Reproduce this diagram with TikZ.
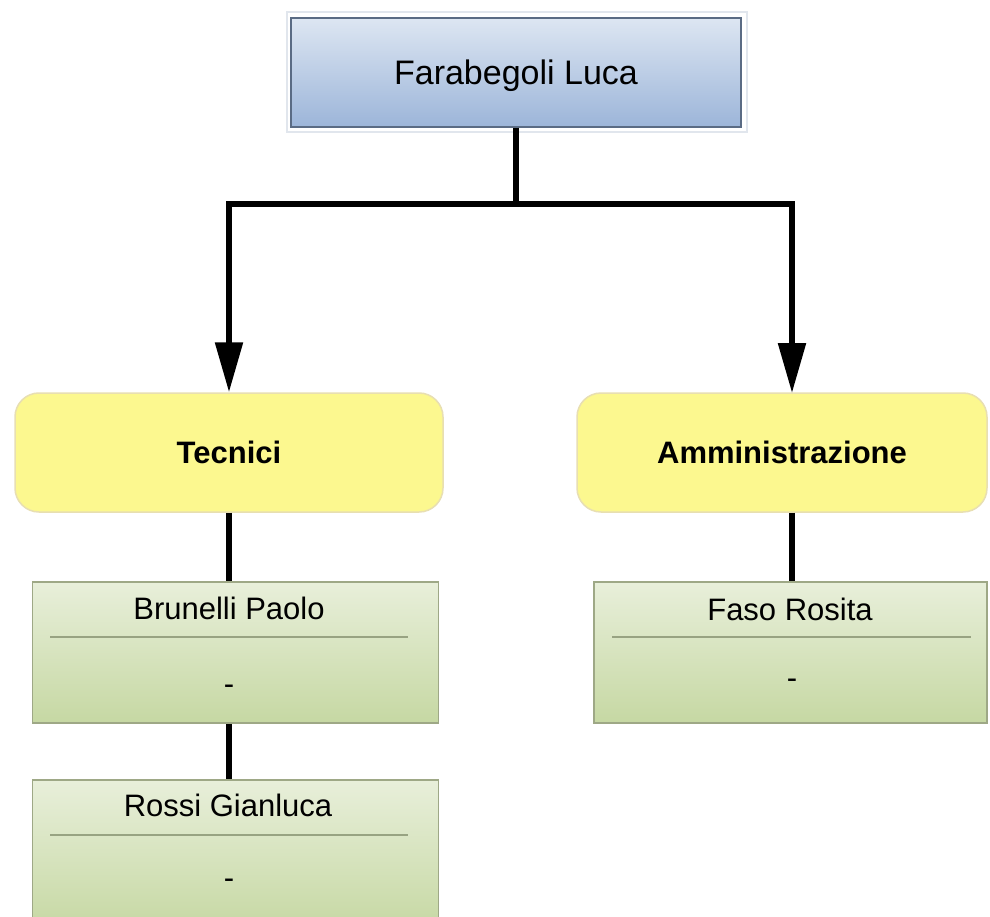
\documentclass[tikz,border=0pt]{standalone}
\usepackage{fontspec}
\setmainfont{Liberation Sans}
\usetikzlibrary{arrows.meta}

\definecolor{bossTop}{HTML}{DDE6F2}
\definecolor{bossBot}{HTML}{9CB5D9}
\definecolor{bossLine}{HTML}{5A6B84}
\definecolor{frameLine}{HTML}{E1E6ED}
\definecolor{unitFill}{HTML}{FCF88F}
\definecolor{unitLine}{HTML}{E8DFB2}
\definecolor{memTop}{HTML}{E8EFDA}
\definecolor{memBot}{HTML}{C6D8A3}
\definecolor{memLine}{HTML}{9EA886}
\definecolor{sepLine}{HTML}{98A382}

\begin{document}
\begin{tikzpicture}[x=1pt,y=-1pt,
  bossframe/.style={draw=frameLine, line width=2pt, fill=white,
    minimum width=460pt, minimum height=120pt, inner sep=0pt},
  boss/.style={draw=bossLine, line width=1.5pt, top color=bossTop,
    bottom color=bossBot, minimum width=450pt, minimum height=109pt,
    inner sep=0pt, text depth=0pt, font=\fontsize{34}{40}\selectfont},
  unit/.style={draw=unitLine, line width=1.5pt, fill=unitFill,
    rounded corners=24pt, minimum height=119pt, inner sep=0pt,
    font=\bfseries\fontsize{31}{36}\selectfont},
  member/.style={draw=memLine, line width=1.5pt, top color=memTop,
    bottom color=memBot, inner sep=0pt},
  txt/.style={font=\fontsize{31}{36}\selectfont, inner sep=0pt, anchor=base},
  sep/.style={draw=sepLine, line width=1.5pt},
  link/.style={line width=5.5pt, black},
  arrowlink/.style={link, -{Triangle[length=50pt,width=27pt]}}]

\useasboundingbox (0,0) rectangle (990,917);
\clip (0,0) rectangle (990,917);
\fill[white] (0,0) rectangle (990,917);

% director
\node[bossframe] (bossframe) at (517,72) {};
\node[boss] (boss) at (516,72.5) {Farabegoli Luca};

% departments
\node[unit, minimum width=428pt] (tec) at (229,452.5) {Tecnici};
\node[unit, minimum width=410pt] (amm) at (782,452.5) {Amministrazione};

% staff cards
\node[member, minimum width=406pt, minimum height=141pt] (brun) at (235.5,652.5) {};
\node[member, minimum width=406pt, minimum height=150pt] (rossi) at (235.5,855) {};
\node[member, minimum width=393pt, minimum height=141pt] (faso) at (790.5,652.5) {};

\node[txt] (brunName) at (229,619) {Brunelli Paolo};
\draw[sep] (50,637) -- (408,637);
\node[txt] (brunRole) at (229,694) {-};

\node[txt] (rossiName) at (228,816) {Rossi Gianluca};
\draw[sep] (50,835) -- (408,835);
\node[txt] (rossiRole) at (229,888) {-};

\node[txt] (fasoName) at (790,620) {Faso Rosita};
\draw[sep] (612,637) -- (971,637);
\node[txt] (fasoRole) at (792,688) {-};

% connectors
\coordinate (hub) at (516,204);
\coordinate (ammIn) at (792,393);
\draw[link] (boss.south) -- (hub);
\draw[arrowlink] (hub) -| (tec.north);
\draw[arrowlink] (hub) -| (ammIn);
\draw[link] (tec.south) -- (tec.south |- brun.north);
\draw[link] (tec.south |- brun.south) -- (tec.south |- rossi.north);
\draw[link] (ammIn |- amm.south) -- (ammIn |- faso.north);
\end{tikzpicture}
\end{document}
